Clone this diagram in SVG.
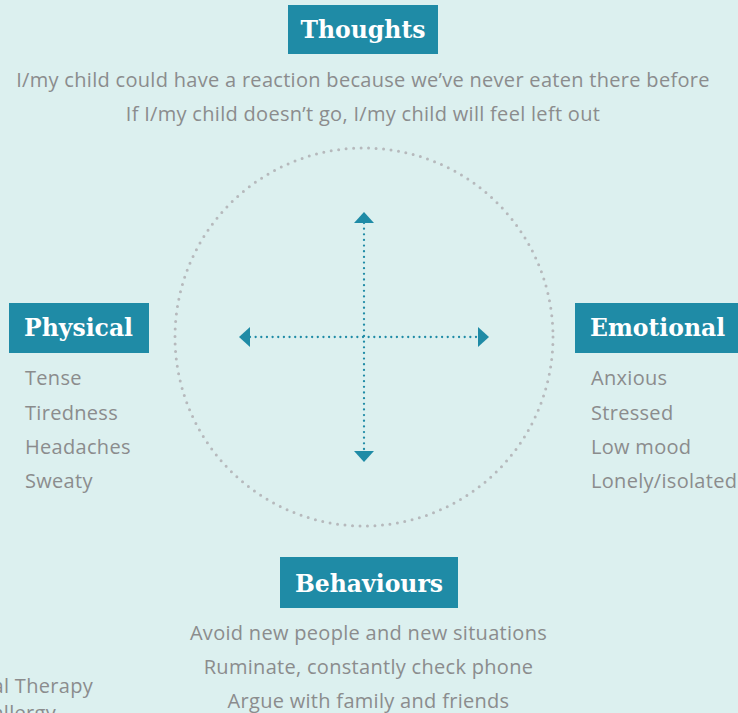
<svg xmlns="http://www.w3.org/2000/svg" width="738" height="713" viewBox="0 0 738 713">
  <style>
    .box { fill: #1f8ba6; }
    .title { font-family: "DejaVu Serif", "Liberation Serif", serif; font-weight: bold; font-size: 23.5px; fill: #ffffff; }
    .item { font-family: "Open Sans", "Liberation Sans", sans-serif; font-size: 20px; fill: #8b8c8d; letter-spacing: 0.3px; }
    .mid { text-anchor: middle; }
    .ring { fill: none; stroke: #b6b9bc; stroke-width: 3; stroke-linecap: round; stroke-dasharray: 0 7.52; }
    .axis { fill: none; stroke: #1f8ba6; stroke-width: 2.3; stroke-linecap: round; stroke-dasharray: 0 5.65; }
  </style>
  <defs>
    <marker id="head" viewBox="0 -10 11 20" refX="0" refY="0" markerWidth="11" markerHeight="20" markerUnits="userSpaceOnUse" orient="auto-start-reverse">
      <path d="M0,-10 L11,0 L0,10 Z" fill="#1f8ba6"/>
    </marker>
  </defs>

  <rect width="738" height="713" fill="#dcf0ef"/>

  <!-- dotted ring around the cross -->
  <circle class="ring" cx="364" cy="337" r="189"/>

  <g id="connectors">
    <line class="axis" x1="364" y1="223" x2="364" y2="451" marker-start="url(#head)" marker-end="url(#head)"/>
    <line class="axis" x1="250" y1="337" x2="478" y2="337" marker-start="url(#head)" marker-end="url(#head)"/>
  </g>

  <g id="thoughts">
    <rect class="box" x="288" y="5" width="150" height="49"/>
    <text class="title mid" x="363" y="38">Thoughts</text>
    <text class="item mid" x="363" y="87">I/my child could have a reaction because we’ve never eaten there before</text>
    <text class="item mid" x="363" y="121">If I/my child doesn’t go, I/my child will feel left out</text>
  </g>

  <g id="physical">
    <rect class="box" x="9" y="303" width="140" height="50"/>
    <text class="title" x="24" y="336">Physical</text>
    <text class="item" x="25" y="385">Tense</text>
    <text class="item" x="25" y="419.5">Tiredness</text>
    <text class="item" x="25" y="454">Headaches</text>
    <text class="item" x="25" y="488">Sweaty</text>
  </g>

  <g id="emotional">
    <rect class="box" x="575" y="303" width="170" height="50"/>
    <text class="title" x="590" y="336">Emotional</text>
    <text class="item" x="591" y="385">Anxious</text>
    <text class="item" x="591" y="419.5">Stressed</text>
    <text class="item" x="591" y="454">Low mood</text>
    <text class="item" x="591" y="488">Lonely/isolated</text>
  </g>

  <g id="behaviours">
    <rect class="box" x="280" y="557" width="178" height="51"/>
    <text class="title mid" x="369" y="592">Behaviours</text>
    <text class="item mid" x="368.5" y="640">Avoid new people and new situations</text>
    <text class="item mid" x="368.5" y="674">Ruminate, constantly check phone</text>
    <text class="item mid" x="368.5" y="708">Argue with family and friends</text>
  </g>

  <!-- lines running off the left edge -->
  <g id="footnote">
    <text class="item" x="93" y="693" text-anchor="end">al Therapy</text>
    <text class="item" x="56" y="720" text-anchor="end">allergy</text>
  </g>
</svg>
